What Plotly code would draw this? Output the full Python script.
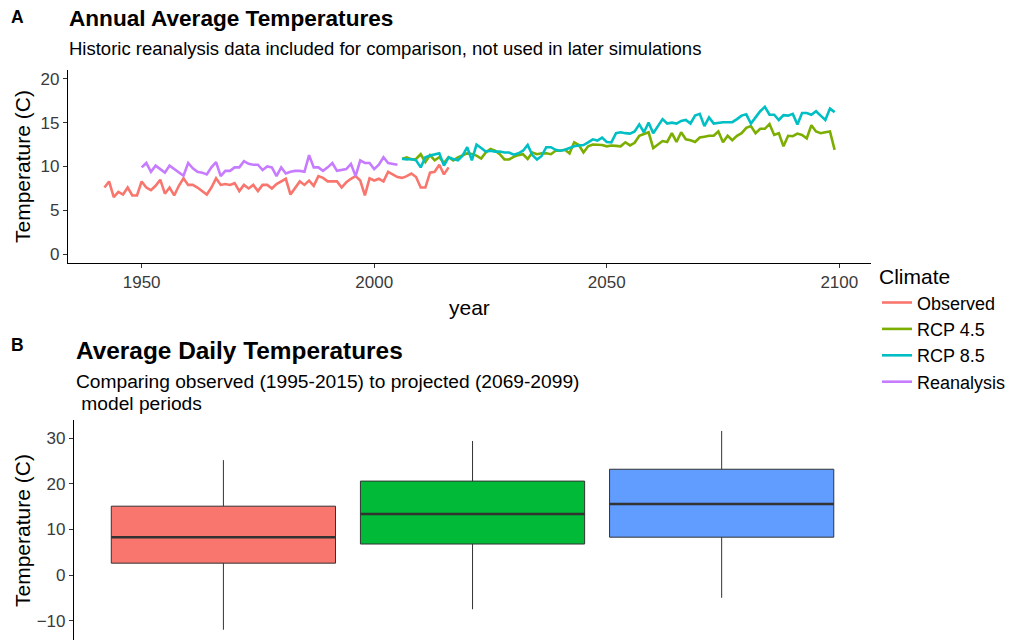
import plotly.graph_objects as go

# ---------------- Data ----------------
obs_years = list(range(1942, 2017))
obs_vals = [7.6, 8.3, 6.5, 7.1, 6.8, 7.6, 6.7, 6.7, 8.3, 7.6,
            7.3, 7.8, 8.5, 6.9, 7.6, 6.7, 7.8, 8.65, 7.9, 7.9,
            7.6, 7.2, 6.8, 7.6, 8.65, 7.9, 8.0, 7.9, 8.1, 7.2,
            7.9, 7.5, 7.9, 7.2, 7.9, 7.9, 7.5, 8.0, 8.3, 8.6,
            6.8, 7.6, 8.3, 7.9, 8.4, 7.8, 8.9, 8.7, 8.3, 8.3,
            8.3, 7.6, 8.2, 8.6, 8.9, 8.4, 6.7, 8.65, 8.4, 8.6,
            8.3, 9.4, 9.1, 8.8, 8.7, 8.9, 9.2, 8.8, 7.6, 7.6,
            9.3, 9.4, 10.2, 9.1, 9.9]

rea_years = list(range(1950, 2006))
rea_vals = [9.9, 10.4, 9.4, 10.1, 9.7, 9.3, 10.1, 9.7, 9.3, 8.95,
            10.4, 9.8, 9.4, 9.3, 9.1, 9.9, 10.5, 8.9, 9.5, 9.5,
            9.9, 9.9, 10.6, 10.3, 10.2, 10.2, 9.6, 10.0, 9.9, 8.9,
            9.9, 9.2, 9.4, 9.5, 9.5, 9.4, 11.3, 9.9, 9.9, 9.5,
            9.9, 10.4, 9.5, 9.6, 9.7, 10.3, 8.9, 10.7, 10.4, 10.4,
            9.7, 10.2, 11.05, 10.4, 10.3, 10.2]

rcp_years = list(range(2006, 2100))
rcp45_vals = [10.86, 11.05, 10.8, 10.86, 11.4, 10.5, 11.3, 10.7, 11.05, 10.4,
              11.05, 10.7, 11.05, 11.24, 11.5, 11.43, 11.24, 10.9, 11.6, 12.0,
              11.8, 11.4, 10.8, 10.8, 11.1, 11.3, 11.4, 10.86, 11.6, 11.4,
              11.5, 11.5, 11.4, 11.8, 11.8, 11.9, 11.5, 12.76, 12.45, 11.6,
              12.3, 12.5, 12.5, 12.45, 12.3, 12.4, 12.35, 12.3, 12.76, 12.4,
              12.7, 13.5, 13.7, 13.9, 12.1, 12.45, 12.9, 12.8, 13.8, 12.8,
              13.9, 13.1, 13.0, 12.8, 13.3, 13.4, 13.5, 13.5, 14.0, 12.76,
              13.5, 13.0, 13.5, 13.8, 14.4, 14.6, 13.8, 14.3, 14.3, 14.85,
              13.6, 13.8, 12.3, 13.5, 13.45, 13.75, 13.6, 13.2, 14.7, 14.0,
              13.8, 13.9, 14.0, 11.9]
rcp85_vals = [10.9, 10.8, 10.86, 10.7, 9.9, 11.05, 11.24, 11.4, 11.5, 10.1,
              11.05, 10.86, 10.7, 11.24, 12.2, 10.7, 12.5, 12.1, 11.7, 11.8,
              11.7, 11.7, 11.6, 11.6, 11.35, 11.5, 11.8, 12.45, 11.3, 10.8,
              11.2, 12.2, 12.2, 11.9, 11.8, 11.9, 12.1, 12.3, 12.4, 12.45,
              12.76, 13.1, 12.95, 13.3, 12.8, 12.76, 13.8, 13.9, 13.8, 13.75,
              14.0, 14.8, 13.9, 15.0, 13.8, 14.6, 15.4, 14.9, 15.0, 14.9,
              15.2, 15.3, 14.9, 15.8, 16.0, 14.6, 15.6, 14.9, 15.0, 15.05,
              15.05, 15.05, 15.4, 15.8, 15.95, 14.9, 15.6, 16.3, 16.8, 15.9,
              15.9, 15.3, 15.85, 15.8, 16.0, 14.8, 16.1, 16.1, 15.9, 16.3,
              15.8, 15.3, 16.6, 16.2]

line_series = ["Observed", "RCP 4.5", "RCP 8.5", "Reanalysis"]
line_colors = ["#F8766D", "#7CAE00", "#00BFC4", "#C77CFF"]

box_groups = ["Observed", "RCP 4.5", "RCP 8.5"]
box_pos = [1, 2, 3]
box_low = [-12.0, -7.5, -5.0]
box_q1 = [2.6, 6.8, 8.3]
box_med = [8.3, 13.4, 15.6]
box_q3 = [15.1, 20.6, 23.2]
box_high = [25.2, 29.4, 31.6]
box_colors = ["#F8766D", "#00BA38", "#619CFF"]

yticks_a = [0, 5, 10, 15, 20]
xticks_a = [1950, 2000, 2050, 2100]
yticks_b = [-10, 0, 10, 20, 30]

# ---------------- Figure ----------------
W, H = 1011, 640
FONT = "Liberation Sans, Arial, sans-serif"
fig = go.Figure()

xs = [obs_years, rcp_years, rcp_years, rea_years]
ys = [obs_vals, rcp45_vals, rcp85_vals, rea_vals]
for name, col, x, y in zip(line_series, line_colors, xs, ys):
    fig.add_trace(go.Scatter(x=x, y=y, mode="lines", name=name,
                             line=dict(color=col, width=2.6),
                             xaxis="x", yaxis="y"))

for g, p, lo, q1, md, q3, hi, col in zip(box_groups, box_pos, box_low, box_q1,
                                         box_med, box_q3, box_high, box_colors):
    fig.add_trace(go.Box(x=[p], q1=[q1], median=[md], q3=[q3],
                         lowerfence=[lo], upperfence=[hi], width=0.9,
                         whiskerwidth=0, fillcolor=col,
                         line=dict(color="#333333", width=1),
                         showlegend=False, name=g, xaxis="x2", yaxis="y2"))
    fig.add_trace(go.Scatter(x=[p - 0.45, p + 0.45], y=[md, md], mode="lines",
                             line=dict(color="#333333", width=2.5),
                             showlegend=False, hoverinfo="skip",
                             xaxis="x2", yaxis="y2"))

def px(x):
    return x / W

def py(y):
    return 1 - y / H

axis_common = dict(showgrid=False, zeroline=False, ticks="outside", ticklen=4,
                   tickcolor="#333333", tickwidth=1,
                   tickfont=dict(size=17, color="#3a3a3a", family=FONT))

fig.update_layout(
    width=W, height=H, margin=dict(l=0, r=0, t=0, b=0),
    paper_bgcolor="white", plot_bgcolor="white",
    font=dict(family=FONT, color="black"),
    showlegend=True,
    xaxis=dict(domain=[px(68), px(872)], range=[1934.15, 2106.85],
               tickvals=xticks_a, showline=True, linecolor="black", linewidth=1,
               anchor="y", **axis_common),
    yaxis=dict(domain=[py(263), py(70)], range=[-1, 21], tickvals=yticks_a,
               showline=True, linecolor="black", linewidth=1, anchor="x",
               **axis_common),
    xaxis2=dict(domain=[px(74), px(872)], range=[0.4, 3.6], showticklabels=False,
                showline=False, showgrid=False, zeroline=False, anchor="y2"),
    yaxis2=dict(domain=[0, py(420)], range=[-14.25, 34.0], tickvals=yticks_b,
                showline=True, linecolor="black", linewidth=1, anchor="x2",
                **axis_common),
    legend=dict(x=px(878), xanchor="left", y=py(257), yanchor="top",
                title=dict(text="Climate", font=dict(size=21, color="black")),
                font=dict(size=18, color="black"), bgcolor="rgba(0,0,0,0)",
                itemwidth=30, tracegroupgap=0),
)

ann = [
    dict(text="<b>A</b>", x=px(9), y=py(17), size=17.5),
    dict(text="<b>B</b>", x=px(9), y=py(345), size=17.5),
    dict(text="<b>Annual Average Temperatures</b>", x=px(67), y=py(19), size=22.6),
    dict(text="Historic reanalysis data included for comparison, not used in later simulations",
         x=px(67), y=py(49), size=18.5),
    dict(text="<b>Average Daily Temperatures</b>", x=px(74), y=py(350), size=24.4),
    dict(text="Comparing observed (1995-2015) to projected (2069-2099)",
         x=px(74), y=py(381), size=19.2),
    dict(text=" model periods", x=px(74), y=py(403), size=19.2),
]
for a in ann:
    fig.add_annotation(text=a["text"], x=a["x"], y=a["y"], xref="paper", yref="paper",
                       xanchor="left", yanchor="middle", showarrow=False,
                       font=dict(size=a["size"], color="black", family=FONT))

fig.add_annotation(text="year", x=px(470), y=py(307), xref="paper", yref="paper",
                   xanchor="center", yanchor="middle", showarrow=False,
                   font=dict(size=21, color="black", family=FONT))
fig.add_annotation(text="Temperature (C)", x=px(22), y=py(166), xref="paper", yref="paper",
                   xanchor="center", yanchor="middle", showarrow=False, textangle=-90,
                   font=dict(size=21, color="black", family=FONT))
fig.add_annotation(text="Temperature (C)", x=px(22), y=py(530), xref="paper", yref="paper",
                   xanchor="center", yanchor="middle", showarrow=False, textangle=-90,
                   font=dict(size=21, color="black", family=FONT))

fig.write_html("out.html")
